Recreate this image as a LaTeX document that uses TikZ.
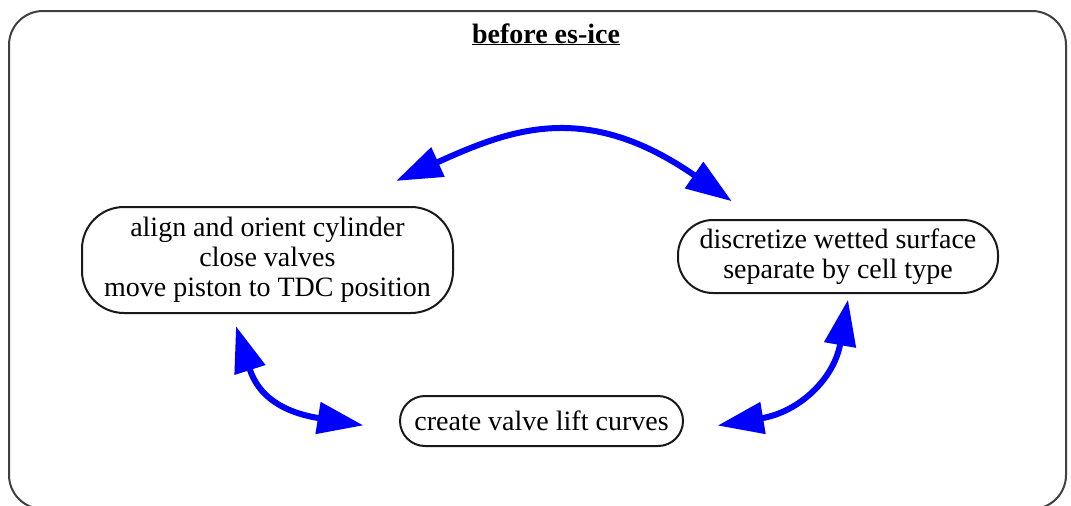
\documentclass[tikz,border=0pt]{standalone}
\usepackage{fontspec}
\setmainfont{Liberation Serif}
\usetikzlibrary{arrows.meta}
\definecolor{linkblue}{RGB}{0,0,255}
\begin{document}
\begin{tikzpicture}[x=1pt,y=-1pt,
  stepbox/.style={draw=black!90, line width=2pt, align=center, inner sep=0pt,
    font=\fontsize{28}{30}\selectfont},
  % the curve is the shaft; the heads stick out beyond its ends
  link/.style={draw=linkblue, line width=6pt,
    {Triangle[length=46pt,width=31pt]}-{Triangle[length=46pt,width=31pt]},
    shorten <=-46pt, shorten >=-46pt},
  frame/.style={draw=black!75, line width=2pt, rounded corners=34pt}]
  \useasboundingbox (0,0) rectangle (1071,506);

  % outer frame and its title
  \draw[frame] (9,11) rectangle (1066,509);
  \node[anchor=base, font=\fontsize{28}{30}\selectfont] (title) at (546,43)
    {\underline{\textbf{before es-ice}}};

  % process steps
  \node[stepbox, minimum width=371pt, minimum height=106pt, rounded corners=42pt]
    (A) at (267.5,260) {align and orient cylinder\\close valves\\move piston to TDC position};
  \node[stepbox, minimum width=320pt, minimum height=73pt, rounded corners=35pt]
    (B) at (838,256.5) {discretize wetted surface\\separate by cell type};
  \node[stepbox, minimum width=283pt, minimum height=50pt, rounded corners=25pt]
    (C) at (541.5,421) {create valve lift curves};

  % shaft ends of the connectors
  \coordinate (AB1) at (438,162);
  \coordinate (AB2) at (694,175);
  \coordinate (AC1) at (250,370);
  \coordinate (AC2) at (318,418);
  \coordinate (BC1) at (840,345);
  \coordinate (BC2) at (763,418);

  % two-way connectors
  \draw[link] (AB1) .. controls (511,129) and (586,100) .. (AB2);
  \draw[link] (AC1) .. controls (258,395) and (281,412) .. (AC2);
  \draw[link] (BC2) .. controls (799,412) and (834,379) .. (BC1);
\end{tikzpicture}
\end{document}
